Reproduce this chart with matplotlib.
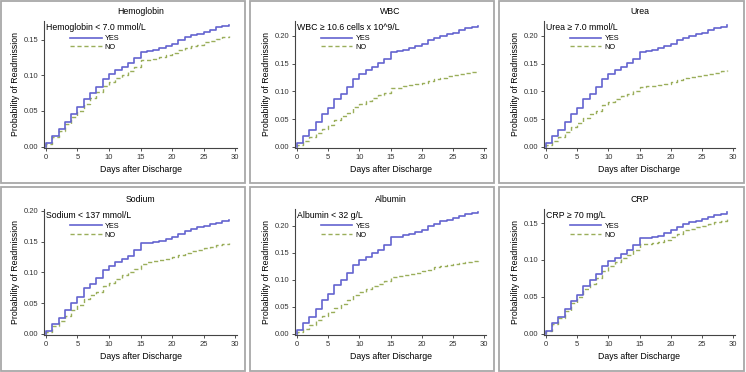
import matplotlib
matplotlib.use('Agg')
import matplotlib.pyplot as plt
from matplotlib.patches import Rectangle

plt.rcParams['font.family'] = ['Liberation Sans', 'DejaVu Sans']

days = list(range(0, 30))

titles = ['Hemoglobin', 'WBC', 'Urea', 'Sodium', 'Albumin', 'CRP']
groups = ['Hemoglobin < 7.0 mmol/L', 'WBC \u2265 10.6 cells x 10^9/L', 'Urea \u2265 7.0 mmol/L',
          'Sodium < 137 mmol/L', 'Albumin < 32 g/L', 'CRP \u2265 70 mg/L']

hb_yes = [0.005, 0.015, 0.024, 0.035, 0.046, 0.055, 0.067, 0.075, 0.084, 0.095,
          0.102, 0.107, 0.112, 0.117, 0.124, 0.133, 0.134, 0.136, 0.138, 0.141,
          0.144, 0.150, 0.153, 0.156, 0.158, 0.161, 0.164, 0.167, 0.169, 0.171]
hb_no = [0.003, 0.013, 0.022, 0.031, 0.041, 0.050, 0.060, 0.068, 0.076, 0.085,
         0.091, 0.096, 0.101, 0.106, 0.112, 0.121, 0.122, 0.123, 0.125, 0.128,
         0.131, 0.135, 0.138, 0.141, 0.143, 0.146, 0.148, 0.151, 0.153, 0.155]

wbc_yes = [0.007, 0.020, 0.031, 0.045, 0.060, 0.070, 0.087, 0.096, 0.108, 0.123,
           0.132, 0.138, 0.144, 0.151, 0.159, 0.172, 0.173, 0.175, 0.178, 0.182,
           0.186, 0.192, 0.197, 0.200, 0.203, 0.206, 0.210, 0.214, 0.216, 0.218]
wbc_no = [0.003, 0.010, 0.017, 0.025, 0.033, 0.040, 0.048, 0.055, 0.062, 0.072,
          0.078, 0.083, 0.088, 0.093, 0.098, 0.106, 0.107, 0.109, 0.111, 0.113,
          0.116, 0.119, 0.123, 0.125, 0.127, 0.129, 0.131, 0.133, 0.135, 0.136]

urea_yes = [0.007, 0.020, 0.031, 0.045, 0.060, 0.070, 0.087, 0.096, 0.108, 0.123,
            0.132, 0.138, 0.144, 0.151, 0.159, 0.172, 0.173, 0.175, 0.178, 0.182,
            0.186, 0.192, 0.197, 0.200, 0.203, 0.206, 0.210, 0.214, 0.216, 0.219]
urea_no = [0.003, 0.011, 0.018, 0.026, 0.035, 0.043, 0.052, 0.060, 0.065, 0.075,
           0.081, 0.086, 0.091, 0.095, 0.100, 0.108, 0.109, 0.110, 0.112, 0.114,
           0.117, 0.121, 0.124, 0.126, 0.128, 0.130, 0.132, 0.134, 0.136, 0.138]

na_yes = [0.005, 0.016, 0.026, 0.038, 0.050, 0.060, 0.074, 0.081, 0.091, 0.103,
          0.110, 0.116, 0.121, 0.127, 0.136, 0.147, 0.148, 0.149, 0.151, 0.155,
          0.158, 0.163, 0.167, 0.170, 0.173, 0.175, 0.178, 0.181, 0.183, 0.185]
na_no = [0.003, 0.012, 0.020, 0.029, 0.038, 0.047, 0.056, 0.063, 0.068, 0.077,
         0.083, 0.089, 0.095, 0.100, 0.106, 0.114, 0.116, 0.118, 0.120, 0.122,
         0.125, 0.128, 0.131, 0.134, 0.136, 0.139, 0.141, 0.144, 0.146, 0.148]

alb_yes = [0.007, 0.021, 0.032, 0.047, 0.062, 0.073, 0.091, 0.099, 0.112, 0.127,
           0.137, 0.142, 0.149, 0.156, 0.165, 0.179, 0.180, 0.182, 0.185, 0.189,
           0.193, 0.199, 0.204, 0.208, 0.211, 0.214, 0.218, 0.222, 0.224, 0.226]
alb_no = [0.003, 0.010, 0.017, 0.025, 0.033, 0.040, 0.048, 0.055, 0.062, 0.072,
          0.078, 0.083, 0.088, 0.093, 0.098, 0.106, 0.107, 0.109, 0.111, 0.113,
          0.116, 0.119, 0.123, 0.125, 0.127, 0.129, 0.131, 0.133, 0.135, 0.137]

crp_yes = [0.004, 0.014, 0.022, 0.033, 0.044, 0.052, 0.065, 0.072, 0.081, 0.091,
           0.098, 0.103, 0.108, 0.113, 0.120, 0.129, 0.130, 0.131, 0.133, 0.136,
           0.140, 0.144, 0.149, 0.151, 0.153, 0.155, 0.158, 0.161, 0.162, 0.165]
crp_no = [0.003, 0.013, 0.021, 0.031, 0.041, 0.049, 0.060, 0.067, 0.075, 0.085,
          0.092, 0.097, 0.102, 0.107, 0.113, 0.121, 0.122, 0.123, 0.124, 0.127,
          0.131, 0.135, 0.140, 0.142, 0.144, 0.146, 0.149, 0.152, 0.153, 0.155]

yes_series = [hb_yes, wbc_yes, urea_yes, na_yes, alb_yes, crp_yes]
no_series = [hb_no, wbc_no, urea_no, na_no, alb_no, crp_no]
ytops = [0.176, 0.227, 0.227, 0.203, 0.231, 0.169]

W, H = 746, 372
fig = plt.figure(figsize=(W / 100, H / 100), dpi=100)

# pixel geometry of panels / axes
box_x = [(1, 245), (250, 494), (499, 744)]
box_y = [(1, 183), (187, 371)]
ax_x = [(44, 237), (295, 486), (544, 735)]
ax_y = [(21, 148), (209, 335)]

for i in range(6):
    r, c = divmod(i, 3)
    bx0, bx1 = box_x[c]
    by0, by1 = box_y[r]
    fig.add_artist(Rectangle((bx0 / W, 1 - by1 / H), (bx1 - bx0) / W, (by1 - by0) / H,
                             transform=fig.transFigure, fill=False, ec='#a8a8a8', lw=1.3))
    x0, x1 = ax_x[c]
    y0, y1 = ax_y[r]
    ax = fig.add_axes([x0 / W, 1 - y1 / H, (x1 - x0) / W, (y1 - y0) / H])

    xs = [0] + days
    ax.plot(xs, [0] + no_series[i], drawstyle='steps-post', color='#9aae5a',
            lw=1.0, ls=(0, (3, 2)), label='NO')
    ax.plot(xs, [0] + yes_series[i], drawstyle='steps-post', color='#6464cf',
            lw=1.2, label='YES')

    ax.set_xlim(-0.3, 30.3)
    ax.set_ylim(-0.002, ytops[i])
    ax.set_xticks([0, 5, 10, 15, 20, 25, 30])
    ax.set_yticks([t for t in [0.0, 0.05, 0.10, 0.15, 0.20] if t <= ytops[i]])
    ax.yaxis.set_major_formatter(plt.FormatStrFormatter('%.2f'))
    for s in ['top', 'right']:
        ax.spines[s].set_visible(False)
    for s in ['left', 'bottom']:
        ax.spines[s].set_color('#444444')
        ax.spines[s].set_linewidth(0.8)
    ax.tick_params(labelsize=5.5, length=2.5, width=0.6, pad=1.5, colors='#333333')
    ax.set_xlabel('Days after Discharge', fontsize=6.3, labelpad=3)
    ax.set_ylabel('Probability of Readmission', fontsize=6.3, labelpad=3)
    ax.set_title(titles[i], fontsize=6.3, pad=5)

    ax.text(0.01, 0.985, groups[i], transform=ax.transAxes, fontsize=6.3,
            ha='left', va='top')
    h, l = ax.get_legend_handles_labels()
    ax.legend(h[::-1], l[::-1], loc='upper left', bbox_to_anchor=(0.135, 0.89),
              frameon=False, fontsize=5.3, handlelength=4.3, handletextpad=0.4,
              labelspacing=0.2, borderpad=0, borderaxespad=0)

fig.savefig('out.png', dpi=100)
